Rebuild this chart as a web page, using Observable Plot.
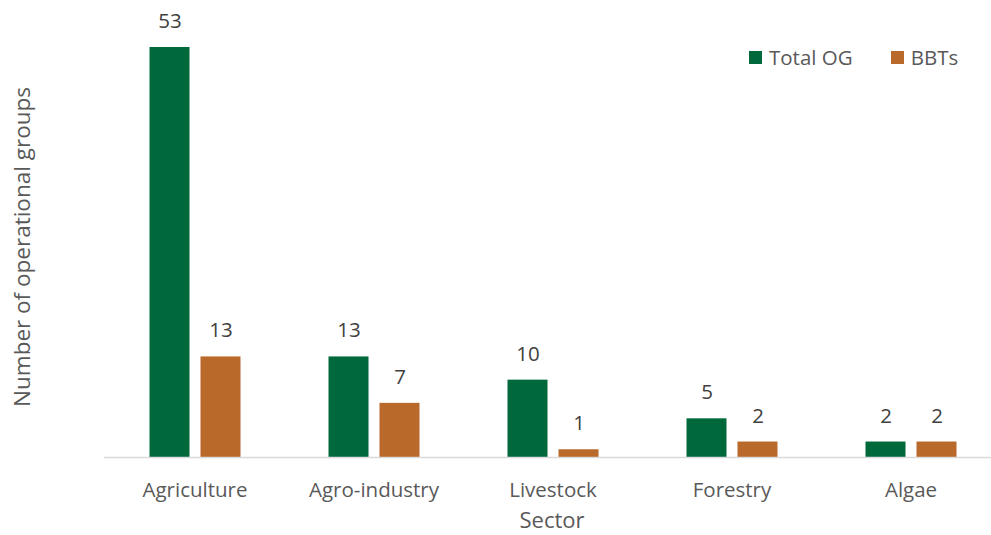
<!DOCTYPE html>
<html><head><meta charset="utf-8">
<script src="https://cdn.jsdelivr.net/npm/d3@7"></script>
<script src="https://cdn.jsdelivr.net/npm/@observablehq/plot@0.6"></script>
<style>
body{margin:0;background:#fff;font-family:"Open Sans",sans-serif;}
#wrap{position:relative;width:991px;height:535px;}
#legend{position:absolute;top:43px;left:749px;display:flex;align-items:center;font-size:20.5px;color:#595959;}
#legend span.sw{display:inline-block;width:13px;height:13px;margin-right:7px;}
#legend .item{display:flex;align-items:center;}
</style></head>
<body><div id="wrap"><div id="chart"></div>
<div id="legend"><div class="item" style="margin-right:38px"><span class="sw" style="background:#00693C"></span>Total OG</div><div class="item"><span class="sw" style="background:#B9692A"></span>BBTs</div></div></div>
<script>
const sectors = ["Agriculture","Agro-industry","Livestock","Forestry","Algae"];
const totalOG = [53,13,10,5,2];
const bbts = [13,7,1,2,2];
const series = ["Total OG","BBTs"];
const colors = ["#00693C","#B9692A"];

const og = sectors.map((s,i)=>({sector:s, value: totalOG[i]}));
const bb = sectors.map((s,i)=>({sector:s, value: bbts[i]}));

const chart = Plot.plot({
  width: 991, height: 535,
  marginLeft: 104, marginRight: 0, marginTop: 0, marginBottom: 78,
  style: {fontFamily: '"Open Sans", sans-serif', background: "#fff"},
  x: {domain: sectors, range: [104.5, 999.5], padding: 0, label: null},
  y: {domain: [0, 53], range: [457, 47], axis: null},
  marks: [
    Plot.barY(og, {x: "sector", y: "value", fill: colors[0], insetLeft: 44.5, insetRight: 94.5}),
    Plot.barY(bb, {x: "sector", y: "value", fill: colors[1], insetLeft: 95.5, insetRight: 43.5}),
    Plot.ruleY([0], {stroke: "#D9D9D9", strokeWidth: 1.5}),
    Plot.text(og, {x: "sector", y: "value", text: d => String(d.value), dx: -25, dy: -26, fontSize: 20.5, fill: "#404040"}),
    Plot.text(bb, {x: "sector", y: "value", text: d => String(d.value), dx: 26, dy: -26, fontSize: 20.5, fill: "#404040"}),
    Plot.axisX({tickSize: 0, tickPadding: 25, fontSize: 20.5, color: "#595959", label: null})
  ]
});
document.getElementById("chart").appendChild(chart);

const svg = d3.select(chart);
svg.append("text").attr("x", 552).attr("y", 522).attr("text-anchor","middle").attr("dominant-baseline","middle")
  .attr("font-size", 22).attr("fill","#595959").text("Sector");
svg.append("text").attr("transform","translate(30,247) rotate(-90)").attr("text-anchor","middle")
  .attr("font-size", 22.5).attr("fill","#595959").text("Number of operational groups");
</script></body></html>
